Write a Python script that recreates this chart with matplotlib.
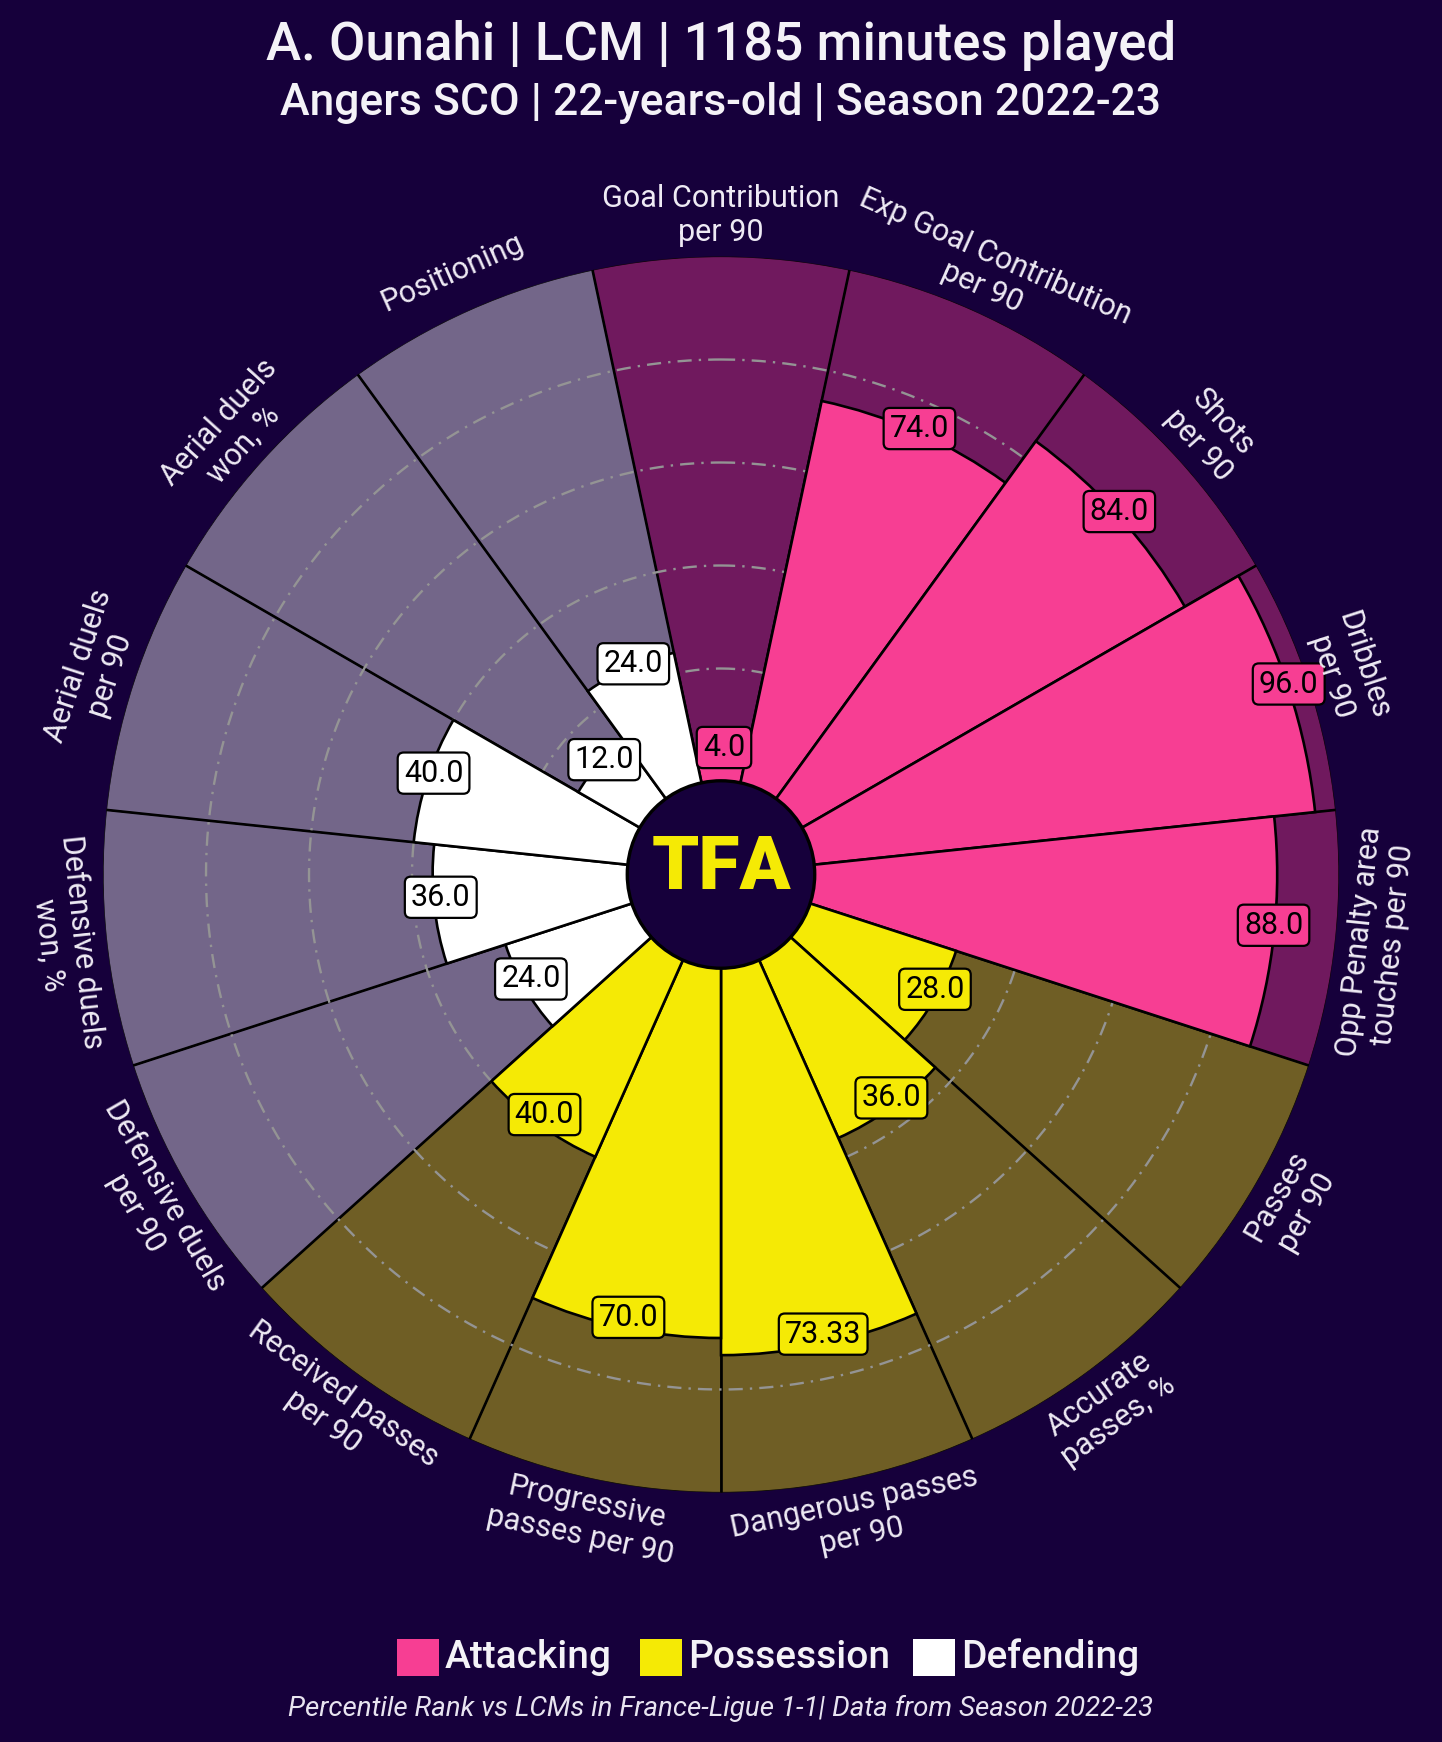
import numpy as np
import matplotlib.pyplot as plt
from matplotlib.patches import Circle, Rectangle
from matplotlib.colors import to_rgb
from matplotlib.transforms import offset_copy

plt.rcParams['font.family'] = ['Roboto', 'DejaVu Sans']

BG = "#16003b"
TXT = "#eeeaf4"

# --- data -------------------------------------------------------------
params = [
    "Goal Contribution\nper 90", "Exp Goal Contribution\nper 90", "Shots\nper 90",
    "Dribbles\nper 90", "Opp Penalty area\ntouches per 90",
    "Passes\nper 90", "Accurate\npasses, %", "Dangerous passes\nper 90",
    "Progressive\npasses per 90", "Received passes\nper 90",
    "Defensive duels\nper 90", "Defensive duels\nwon, %", "Aerial duels\nper 90",
    "Aerial duels\nwon, %", "Positioning",
]
values = [4.0, 74.0, 84.0, 96.0, 88.0,
          28.0, 36.0, 73.33, 70.0, 40.0,
          24.0, 36.0, 40.0, 12.0, 24.0]
groups = ["Attacking"] * 5 + ["Possession"] * 5 + ["Defending"] * 5
group_names = ["Attacking", "Possession", "Defending"]
group_colors = {"Attacking": "#f73e93", "Possession": "#f5ea05", "Defending": "#ffffff"}

title = "A. Ounahi | LCM | 1185 minutes played"
subtitle = "Angers SCO | 22-years-old | Season 2022-23"
footer = "Percentile Rank vs LCMs in France-Ligue 1-1| Data from Season 2022-23"

INNER = 20      # bars start here
TOP = 120       # INNER + 100


def faded(c, a=0.4):
    c = np.array(to_rgb(c))
    b = np.array(to_rgb(BG))
    return tuple(b + (c - b) * a)


# --- figure -----------------------------------------------------------
W, H = 1442, 1742
fig = plt.figure(figsize=(W / 100, H / 100), dpi=100, facecolor=BG)

cx, cy, R = 721, 874.5, 618
ax = fig.add_axes([(cx - R) / W, (H - cy - R) / H, 2 * R / W, 2 * R / H],
                  projection="polar")
ax.set_facecolor(BG)
ax.set_theta_zero_location("N")
ax.set_theta_direction(-1)
ax.set_ylim(0, TOP)
ax.axis("off")

n = len(params)
width = 2 * np.pi / n
theta = np.arange(n) * width
cols = [group_colors[g] for g in groups]

# background slices
ax.bar(theta, TOP, width=width, bottom=0, color=[faded(c) for c in cols],
       edgecolor="black", linewidth=0.9, zorder=1)
# slice separators
for t in theta:
    ax.plot([t - width / 2] * 2, [0, TOP], color="black", lw=1.9, zorder=1.2)

# grid rings
ring = np.linspace(0, 2 * np.pi, 500)
for r in [40, 60, 80, 100]:
    ax.plot(ring, [r] * len(ring), color="#949494", lw=1.7,
            ls=(0, (6, 3, 1, 3)), zorder=1.5)

# value bars
ax.bar(theta, [INNER + v for v in values], width=width, bottom=0, color=cols,
       edgecolor="black", linewidth=1.9, zorder=3)

# value labels (sit slightly up/right of the bar end, as in the original)
val_tr = offset_copy(ax.transData, fig=fig, x=3, y=7, units="dots")
for t, v, c in zip(theta, values, cols):
    ax.text(t, INNER + v - 0.7, f"{v}", ha="center", va="center", fontsize=22,
            color="black", zorder=6, transform=val_tr,
            bbox=dict(boxstyle="round,pad=0.2", fc=c, ec="black", lw=1.6))

# parameter labels
for i, (t, p) in enumerate(zip(theta, params)):
    rot = -np.degrees(t)
    rot = (rot + 180) % 360 - 180
    if rot < -90:
        rot += 180
    elif rot > 90:
        rot -= 180
    ax.text(t, 128, p, ha="center", va="center", rotation=rot,
            fontsize=22, color=TXT, zorder=6)

# centre logo
ax.add_patch(Circle((0.5, 0.5), 18.2 / (2 * TOP), transform=ax.transAxes,
                    fc=BG, ec="black", lw=2.4, zorder=10))
ax.text(0.5, 0.505, "TFA", transform=ax.transAxes, ha="center", va="center",
        fontsize=54, fontweight="black", color="#f5ea05", zorder=11)

# titles
fig.text(0.5, 1 - 45 / H, title, ha="center", va="center", fontsize=38,
         fontweight="medium", color="#f4f2f7")
fig.text(0.5, 1 - 103 / H, subtitle, ha="center", va="center", fontsize=32,
         fontweight="medium", color="#f4f2f7")

# legend
leg_y = 1657
for name, x0 in zip(group_names, [397, 640, 913]):
    fig.add_artist(Rectangle((x0 / W, (H - leg_y - 19) / H), 42 / W, 37 / H,
                             transform=fig.transFigure,
                             fc=group_colors[name], ec="none"))
    fig.text((x0 + 48) / W, 1 - leg_y / H, name, ha="left", va="center",
             fontsize=28, fontweight="medium", color="#f4f2f7")

fig.text(0.5, 1 - 1708 / H, footer, ha="center", va="center", fontsize=20,
         style="italic", color="#e8e4f0")

fig.savefig("out.png", dpi=100, facecolor=BG)
